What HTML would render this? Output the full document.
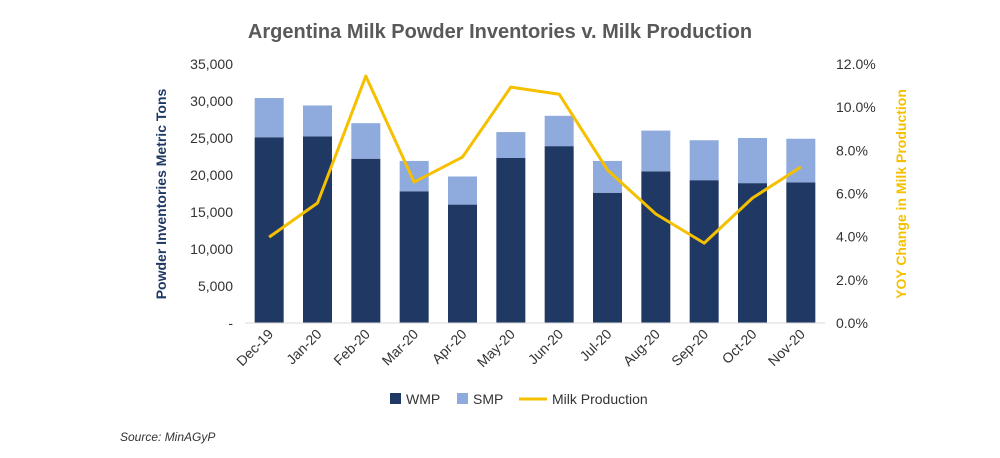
<!DOCTYPE html>
<html><head><meta charset="utf-8"><style>
body{margin:0;background:#fff;font-family:"Liberation Sans",Arial,sans-serif;}
</style></head><body>
<svg width="1000" height="453" viewBox="0 0 1000 453" xmlns="http://www.w3.org/2000/svg">
<rect width="1000" height="453" fill="#fff"/>
<text x="500" y="38" text-anchor="middle" font-size="20" font-weight="bold" fill="#595959">Argentina Milk Powder Inventories v. Milk Production</text>
<g id="plot"></g>
<text transform="translate(166,194) rotate(-90)" text-anchor="middle" font-size="14" font-weight="bold" fill="#1f3864">Powder Inventories Metric Tons</text>
<text transform="translate(906,194) rotate(-90)" text-anchor="middle" font-size="14" font-weight="bold" fill="#f5c000">YOY Change in Milk Production</text>
<g>
<rect x="390" y="393" width="11" height="11" fill="#1f3864"/>
<text x="406" y="404" font-size="14" fill="#333">WMP</text>
<rect x="457" y="393" width="11" height="11" fill="#8faadc"/>
<text x="473" y="404" font-size="14" fill="#333">SMP</text>
<line x1="519" y1="399" x2="547" y2="399" stroke="#f5c000" stroke-width="3"/>
<text x="552" y="404" font-size="14" fill="#333">Milk Production</text>
</g>
<text x="120" y="441" font-size="12" font-style="italic" fill="#333">Source: MinAGyP</text>
</svg>
<script>
const categories=["Dec-19","Jan-20","Feb-20","Mar-20","Apr-20","May-20","Jun-20","Jul-20","Aug-20","Sep-20","Oct-20","Nov-20"];
const wmp=[25100,25200,22200,17800,16000,22300,23900,17600,20500,19300,18900,19000];
const smp=[5300,4200,4800,4100,3800,3500,4100,4300,5500,5400,6100,5900];
const milk=[3.98,5.56,11.44,6.53,7.69,10.93,10.6,7.09,5.05,3.7,5.79,7.23];
const leftTicks=[0,5000,10000,15000,20000,25000,30000,35000];
const rightTicks=[0,2,4,6,8,10,12];
const NS="http://www.w3.org/2000/svg";
const g=document.getElementById('plot');
const X0=245,X1=825,Y0=323,Y1=64;
const step=(X1-X0)/categories.length;
const xc=i=>X0+step*(i+0.5);
const yL=v=>Y0-(v/35000)*(Y0-Y1);
const yR=v=>Y0-(v/12)*(Y0-Y1);
function mk(t,a){const e=document.createElementNS(NS,t);for(const k in a)e.setAttribute(k,a[k]);g.appendChild(e);return e;}
leftTicks.forEach(v=>{const t=mk('text',{x:233,y:yL(v)+5,'text-anchor':'end','font-size':14,fill:'#333'});t.textContent=v===0?'-':v.toLocaleString('en-US');

});
rightTicks.forEach(v=>{const t=mk('text',{x:836,y:yR(v)+5,'font-size':14,fill:'#333'});t.textContent=v.toFixed(1)+'%';

});
const bw=29;
categories.forEach((c,i)=>{
 const b1=mk('rect',{x:xc(i)-bw/2,y:yL(wmp[i]),width:bw,height:Y0-yL(wmp[i]),fill:'#1f3864'});
 
 
 const top=wmp[i]+smp[i];
 const b2=mk('rect',{x:xc(i)-bw/2,y:yL(top),width:bw,height:yL(wmp[i])-yL(top),fill:'#8faadc'});
 
 
 const t=mk('text',{transform:`translate(${xc(i)+5},${Y0+12}) rotate(-45)`,'text-anchor':'end','font-size':14,fill:'#333'});t.textContent=c;
 
 
});
const ax=mk('line',{x1:X0,y1:Y0,x2:X1,y2:Y0,stroke:'#d9d9d9','stroke-width':1});


const pl=mk('polyline',{points:milk.map((v,i)=>xc(i)+','+yR(v)).join(' '),fill:'none',stroke:'#f5c000','stroke-width':3,'stroke-linejoin':'round'});


</script>
</body></html>
